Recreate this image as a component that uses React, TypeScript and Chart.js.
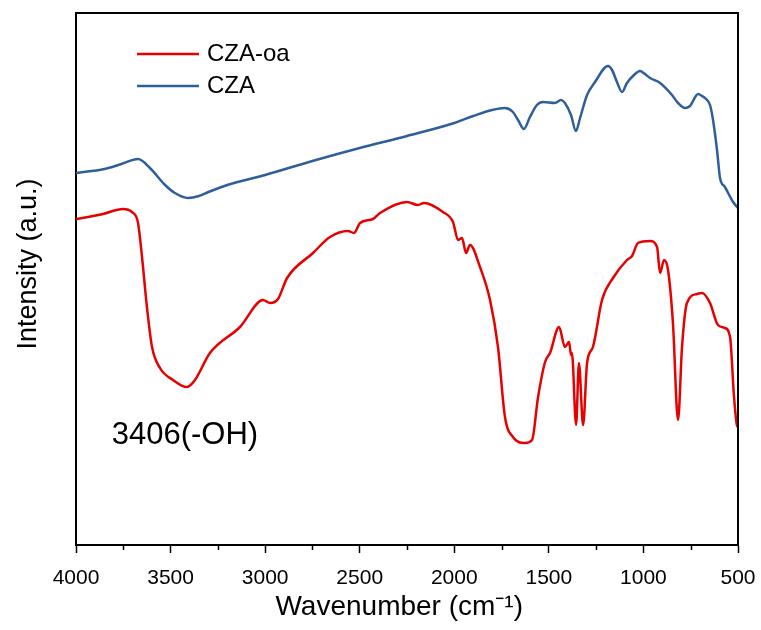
import React, { useEffect, useRef } from 'react';
import { Chart, registerables } from 'chart.js';

Chart.register(...registerables);

// ---- Data ----
const czaOaWavenumber = [
  4000, 3857, 3752, 3704, 3672, 3651, 3625, 3598, 3556, 3487, 3413, 3371, 3292, 3133,
  3011, 2974, 2932, 2884, 2747, 2657, 2562, 2530, 2498, 2430, 2393, 2250, 2192, 2160,
  2060, 2007, 1980, 1959, 1938, 1917, 1864, 1811, 1769, 1732, 1690, 1626, 1589, 1557,
  1520, 1494, 1446, 1415, 1393, 1383, 1378, 1356, 1341, 1319, 1298, 1267, 1219, 1161,
  1087, 1060, 1029, 965, 928, 912, 891, 870, 844, 817, 796, 770, 717, 690, 648, 606,
  569, 542, 521, 506, 500,
];
const czaOaIntensity = [
  326, 331, 336, 333, 322, 288, 238, 198, 177, 165, 158, 165, 192, 218,
  245, 242, 246, 267, 292, 308, 314, 312, 322, 326, 332, 343, 340, 342,
  333, 323, 305, 307, 292, 300, 278, 245, 198, 128, 108, 102, 105, 148,
  183, 192, 218, 198, 203, 190, 192, 120, 182, 120, 182, 198, 245, 267,
  285, 289, 302, 304, 298, 272, 285, 275, 222, 125, 198, 242, 251, 252, 242, 220,
  217, 208, 148, 120, 118,
];

const czaWavenumber = [
  4000, 3850, 3760, 3672, 3609, 3529, 3477, 3408, 3350, 3300, 3200, 3000, 2750, 2500,
  2250, 2000, 1900, 1800, 1732, 1690, 1663, 1632, 1600, 1563, 1531, 1468, 1436, 1415,
  1383, 1357, 1335, 1298, 1256, 1187, 1166, 1140, 1113, 1087, 1050, 1018, 992, 965,
  912, 849, 817, 780, 754, 711, 690, 669, 648, 632, 611, 595, 569, 526, 500,
];
const czaIntensity = [
  372, 376, 381, 386, 377, 360, 352, 347, 349, 353, 360, 370, 384, 397,
  409, 422, 429, 435, 437, 433, 425, 416, 428, 440, 443, 442, 445, 442,
  430, 414, 427, 450, 463, 479, 475, 463, 453, 462, 470, 474, 471, 467,
  462, 450, 442, 437, 439, 451, 449, 446, 440, 425, 395, 367, 358, 343, 337,
];

const seriesLabels = ['CZA-oa', 'CZA'];
const seriesColors = ['#e60000', '#2f5f9a'];

const xTickValues = [4000, 3500, 3000, 2500, 2000, 1500, 1000, 500];
const xMinorTickValues = [3750, 3250, 2750, 2250, 1750, 1250, 750];

const xAxisTitle = 'Wavenumber (cm\u207B\u00B9)';
const yAxisTitle = 'Intensity (a.u.)';

const annotationText = '3406(-OH)';
const annotationWavenumber = 3424;
const annotationIntensity = 110;

const FONT = "'Liberation Sans', Arial, Helvetica, sans-serif";

const framePlugin = {
  id: 'frame',
  afterDraw(chart: any) {
    const { ctx, chartArea } = chart;
    ctx.save();
    ctx.strokeStyle = '#000';
    ctx.lineWidth = 2;
    ctx.beginPath();
    ctx.moveTo(chartArea.left, chartArea.top);
    ctx.lineTo(chartArea.right, chartArea.top);
    ctx.lineTo(chartArea.right, chartArea.bottom);
    ctx.stroke();
    // minor ticks
    const xs = chart.scales.x;
    ctx.lineWidth = 1.5;
    ctx.beginPath();
    xMinorTickValues.forEach((v) => {
      const px = Math.round(xs.getPixelForValue(v)) + 0.5;
      ctx.moveTo(px, chartArea.bottom);
      ctx.lineTo(px, chartArea.bottom + 5);
    });
    ctx.stroke();
    ctx.restore();
  },
};

const legendPlugin = {
  id: 'customLegend',
  afterDraw(chart: any) {
    const { ctx, chartArea } = chart;
    ctx.save();
    ctx.font = `24px ${FONT}`;
    ctx.textBaseline = 'middle';
    ctx.textAlign = 'left';
    chart.data.datasets.forEach((ds: any, i: number) => {
      const y = chartArea.top + 41 + i * 32;
      const x0 = chartArea.left + 61;
      ctx.strokeStyle = ds.borderColor;
      ctx.lineWidth = 2.5;
      ctx.beginPath();
      ctx.moveTo(x0, y);
      ctx.lineTo(x0 + 62, y);
      ctx.stroke();
      ctx.fillStyle = '#000';
      ctx.fillText(ds.label, x0 + 70, y);
    });
    ctx.restore();
  },
};

const annotationPlugin = {
  id: 'annotationText',
  afterDraw(chart: any) {
    const { ctx } = chart;
    const x = chart.scales.x.getPixelForValue(annotationWavenumber);
    const y = chart.scales.y.getPixelForValue(annotationIntensity);
    ctx.save();
    ctx.font = `31px ${FONT}`;
    ctx.fillStyle = '#000';
    ctx.textAlign = 'center';
    ctx.textBaseline = 'middle';
    ctx.fillText(annotationText, x, y);
    ctx.restore();
  },
};

export default function App() {
  const canvasRef = useRef<HTMLCanvasElement | null>(null);

  useEffect(() => {
    document.body.style.margin = '0';
    const canvas = canvasRef.current;
    if (!canvas) return;

    const chart = new Chart(canvas, {
      type: 'line',
      data: {
        datasets: [
          {
            label: seriesLabels[0],
            data: czaOaWavenumber.map((w, i) => ({ x: w, y: czaOaIntensity[i] })),
            borderColor: seriesColors[0],
            borderWidth: 2.5,
            pointRadius: 0,
            fill: false,
            cubicInterpolationMode: 'monotone',
          },
          {
            label: seriesLabels[1],
            data: czaWavenumber.map((w, i) => ({ x: w, y: czaIntensity[i] })),
            borderColor: seriesColors[1],
            borderWidth: 2.5,
            pointRadius: 0,
            fill: false,
            cubicInterpolationMode: 'monotone',
          },
        ],
      },
      options: {
        animation: false,
        responsive: false,
        maintainAspectRatio: false,
        layout: { padding: { top: 13, right: 23, left: 0, bottom: 0 } },
        plugins: {
          legend: { display: false },
          tooltip: { enabled: false },
        },
        scales: {
          x: {
            type: 'linear',
            reverse: true,
            min: 500,
            max: 4000,
            afterBuildTicks: (scale: any) => {
              scale.ticks = xTickValues.map((v) => ({ value: v }));
            },
            afterFit: (scale: any) => {
              scale.height = 85;
              scale.paddingLeft = 0;
              scale.paddingRight = 0;
            },
            grid: {
              display: true,
              drawOnChartArea: false,
              drawTicks: true,
              tickLength: 8,
              tickWidth: 1.5,
              tickColor: '#000',
            },
            border: { display: true, color: '#000', width: 2 },
            ticks: {
              color: '#000',
              padding: 13,
              maxRotation: 0,
              autoSkip: false,
              font: { family: FONT, size: 21 },
              callback: (v: any) => String(v),
            },
            title: {
              display: true,
              text: xAxisTitle + '  ',
              color: '#000',
              font: { family: FONT, size: 28 },
              padding: { top: 0, bottom: 6 },
            },
          },
          y: {
            type: 'linear',
            min: 0,
            max: 532,
            afterFit: (scale: any) => {
              scale.width = 76;
            },
            grid: { display: true, drawOnChartArea: false, drawTicks: false },
            border: { display: true, color: '#000', width: 2 },
            ticks: { display: false },
            title: {
              display: true,
              text: '    ' + yAxisTitle,
              color: '#000',
              font: { family: FONT, size: 27 },
              padding: { top: 12, bottom: 0 },
            },
          },
        },
      },
      plugins: [framePlugin, legendPlugin, annotationPlugin],
    } as any);

    return () => {
      chart.destroy();
    };
  }, []);

  return (
    <div style={{ width: 761, height: 630, background: '#fff' }}>
      <canvas ref={canvasRef} width={761} height={630} style={{ display: 'block' }} />
    </div>
  );
}
